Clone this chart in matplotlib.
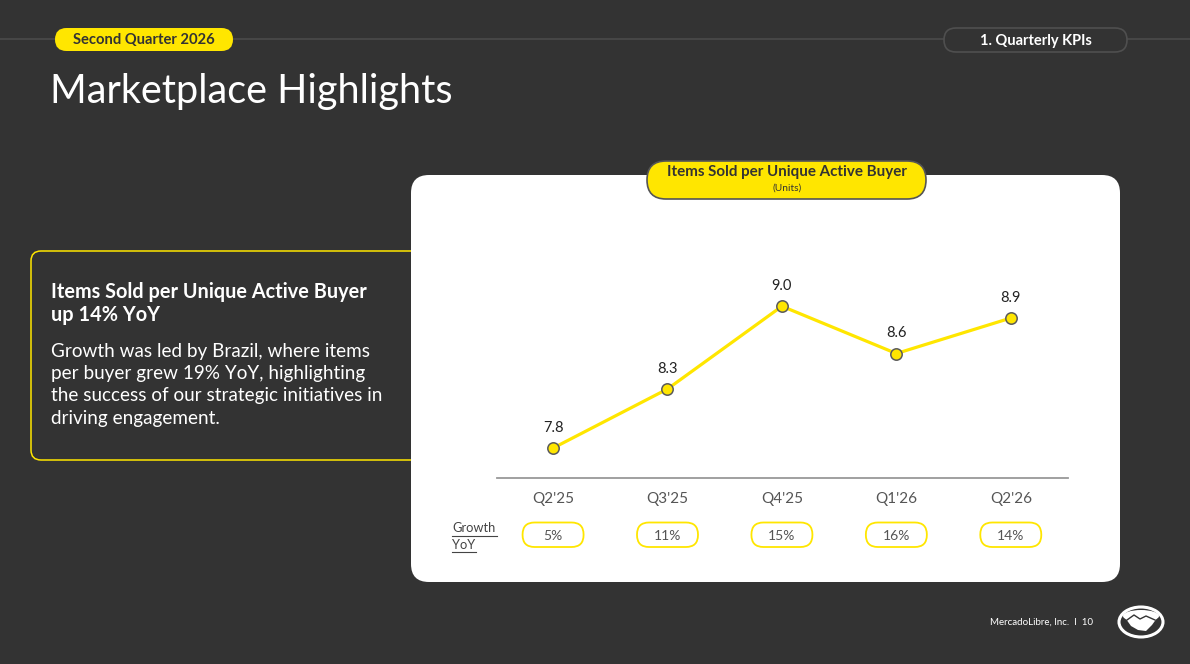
import matplotlib
matplotlib.use("Agg")
import matplotlib.pyplot as plt
from matplotlib.patches import FancyBboxPatch, Ellipse, Polygon
import numpy as np

# ---- data ----
quarters = ["Q2'25", "Q3'25", "Q4'25", "Q1'26", "Q2'26"]
items_per_buyer = [7.8, 8.3, 9.0, 8.6, 8.9]
growth_yoy = ["5%", "11%", "15%", "16%", "14%"]

plt.rcParams['font.family'] = ['Lato', 'DejaVu Sans']

BG = "#333333"
YEL = "#FFE600"
W, H = 1190, 664

fig = plt.figure(figsize=(W / 100, H / 100), dpi=100, facecolor=BG)
ov = fig.add_axes([0, 0, 1, 1], zorder=0)
ov.set_xlim(0, W)
ov.set_ylim(H, 0)
ov.axis("off")
ov.set_facecolor(BG)

# header line
ov.plot([0, W], [39, 39], color="#4a4a4a", lw=1.2, zorder=1)
# Second Quarter pill
ov.add_patch(FancyBboxPatch((55, 28), 178, 23, boxstyle="round,pad=0,rounding_size=11.5",
                            fc=YEL, ec="none", zorder=2))
ov.text(144, 40, "Second Quarter 2026", ha="center", va="center", fontsize=10.6,
        fontweight="bold", color="#333333", zorder=3)
# KPI pill
ov.add_patch(FancyBboxPatch((944, 28), 183, 24, boxstyle="round,pad=0,rounding_size=12",
                            fc=BG, ec="#4f4f4f", lw=1.2, zorder=2))
ov.text(1036, 40.5, "1. Quarterly KPIs", ha="center", va="center", fontsize=10.5,
        fontweight="bold", color="white", zorder=3)

# title
ov.text(50, 91, "Marketplace Highlights", ha="left", va="center", fontsize=28.5,
        color="white", zorder=3)

# left text box
ov.add_patch(FancyBboxPatch((31, 251), 460, 209, boxstyle="round,pad=0,rounding_size=10",
                            fc=BG, ec=YEL, lw=1.1, zorder=2))
for yy, line in zip([292, 315], ["Items Sold per Unique Active Buyer", "up 14% YoY"]):
    ov.text(51, yy, line, ha="left", va="center", fontsize=14.3, fontweight="bold",
            color="white", zorder=3)
body = ["Growth was led by Brazil, where items", "per buyer grew 19% YoY, highlighting",
        "the success of our strategic initiatives in", "driving engagement."]
for yy, line in zip([351, 373.5, 396, 418.5], body):
    ov.text(51, yy, line, ha="left", va="center", fontsize=13.6, color="white", zorder=3)

# white card
ov.add_patch(FancyBboxPatch((411, 175), 709, 407, boxstyle="round,pad=0,rounding_size=18",
                            fc="white", ec="none", zorder=4))
# chart title pill
ov.add_patch(FancyBboxPatch((647, 161), 279, 38, boxstyle="round,pad=0,rounding_size=19",
                            fc=YEL, ec="#555555", lw=1.2, zorder=5))
ov.text(787, 172, "Items Sold per Unique Active Buyer", ha="center", va="center",
        fontsize=10.9, fontweight="bold", color="#333333", zorder=6)
ov.text(787, 188, "(Units)", ha="center", va="center", fontsize=7.3, color="#333333", zorder=6)

# chart axes
left, right, bottom, top = 497, 1068, 478, 260
ax = fig.add_axes([left / W, 1 - bottom / H, (right - left) / W, (bottom - top) / H], zorder=2)
ax.patch.set_alpha(0)
x = np.arange(len(quarters))
ax.plot(x, items_per_buyer, color=YEL, lw=2.3, zorder=3)
ax.plot(x, items_per_buyer, ls="none", marker="o", ms=8.2, mfc=YEL, mec="#5a5a5a",
        mew=1.1, zorder=4)
for xi, v in zip(x, items_per_buyer):
    ax.annotate(f"{v:.1f}", (xi, v), xytext=(0, 14.5), textcoords="offset points",
                ha="center", va="center", fontsize=10.5, color="#222222")
ax.set_xlim(-0.49, 4.5)
ax.set_ylim(7.547, 9.391)
ax.set_yticks([])
ax.set_xticks(x)
ax.set_xticklabels(quarters, fontsize=11, color="#555555")
ax.tick_params(axis="x", length=0, pad=10)
for s in ["top", "left", "right"]:
    ax.spines[s].set_visible(False)
ax.spines["bottom"].set_color("#999999")
ax.spines["bottom"].set_linewidth(1.3)

# growth pills (positions from chart scale)
for xi, g in zip(x, growth_yoy):
    px = ov.transData.inverted().transform(ax.transData.transform((xi, 8.0)))[0]
    ov.add_patch(FancyBboxPatch((px - 30.5, 522.5), 61, 24.5,
                                boxstyle="round,pad=0,rounding_size=12",
                                fc="white", ec=YEL, lw=1.3, zorder=5))
    ov.text(px, 535.5, g, ha="center", va="center", fontsize=10, color="#555555", zorder=6)

ov.text(452, 528, "Growth", ha="left", va="center", fontsize=9.3, color="#444444", zorder=6)
ov.text(452, 545, "YoY", ha="left", va="center", fontsize=9.3, color="#444444", zorder=6)
ov.plot([452, 497], [535.5, 535.5], color="#444444", lw=0.8, zorder=6)
ov.plot([452, 476], [551.5, 551.5], color="#444444", lw=0.8, zorder=6)

# footer
ov.text(1093, 622, "MercadoLibre, Inc.  I  10", ha="right", va="center", fontsize=7,
        color="white", zorder=3)
ov.add_patch(Ellipse((1141, 622), 44, 30, fc="none", ec="white", lw=2.2, zorder=3))
ov.add_patch(Ellipse((1141, 616), 36, 12, fc="white", ec="none", zorder=3))
ov.add_patch(Polygon([[1126, 619], [1134, 614], [1142, 616], [1150, 613], [1157, 618],
                      [1152, 625], [1146, 631], [1138, 630], [1131, 626]],
                     closed=True, fc="white", ec="none", zorder=4))
ov.plot([1127, 1134, 1140, 1146, 1155], [620, 615, 619, 616, 620], color=BG, lw=1.0, zorder=5)

fig.savefig("out.png", dpi=100, facecolor=BG)
